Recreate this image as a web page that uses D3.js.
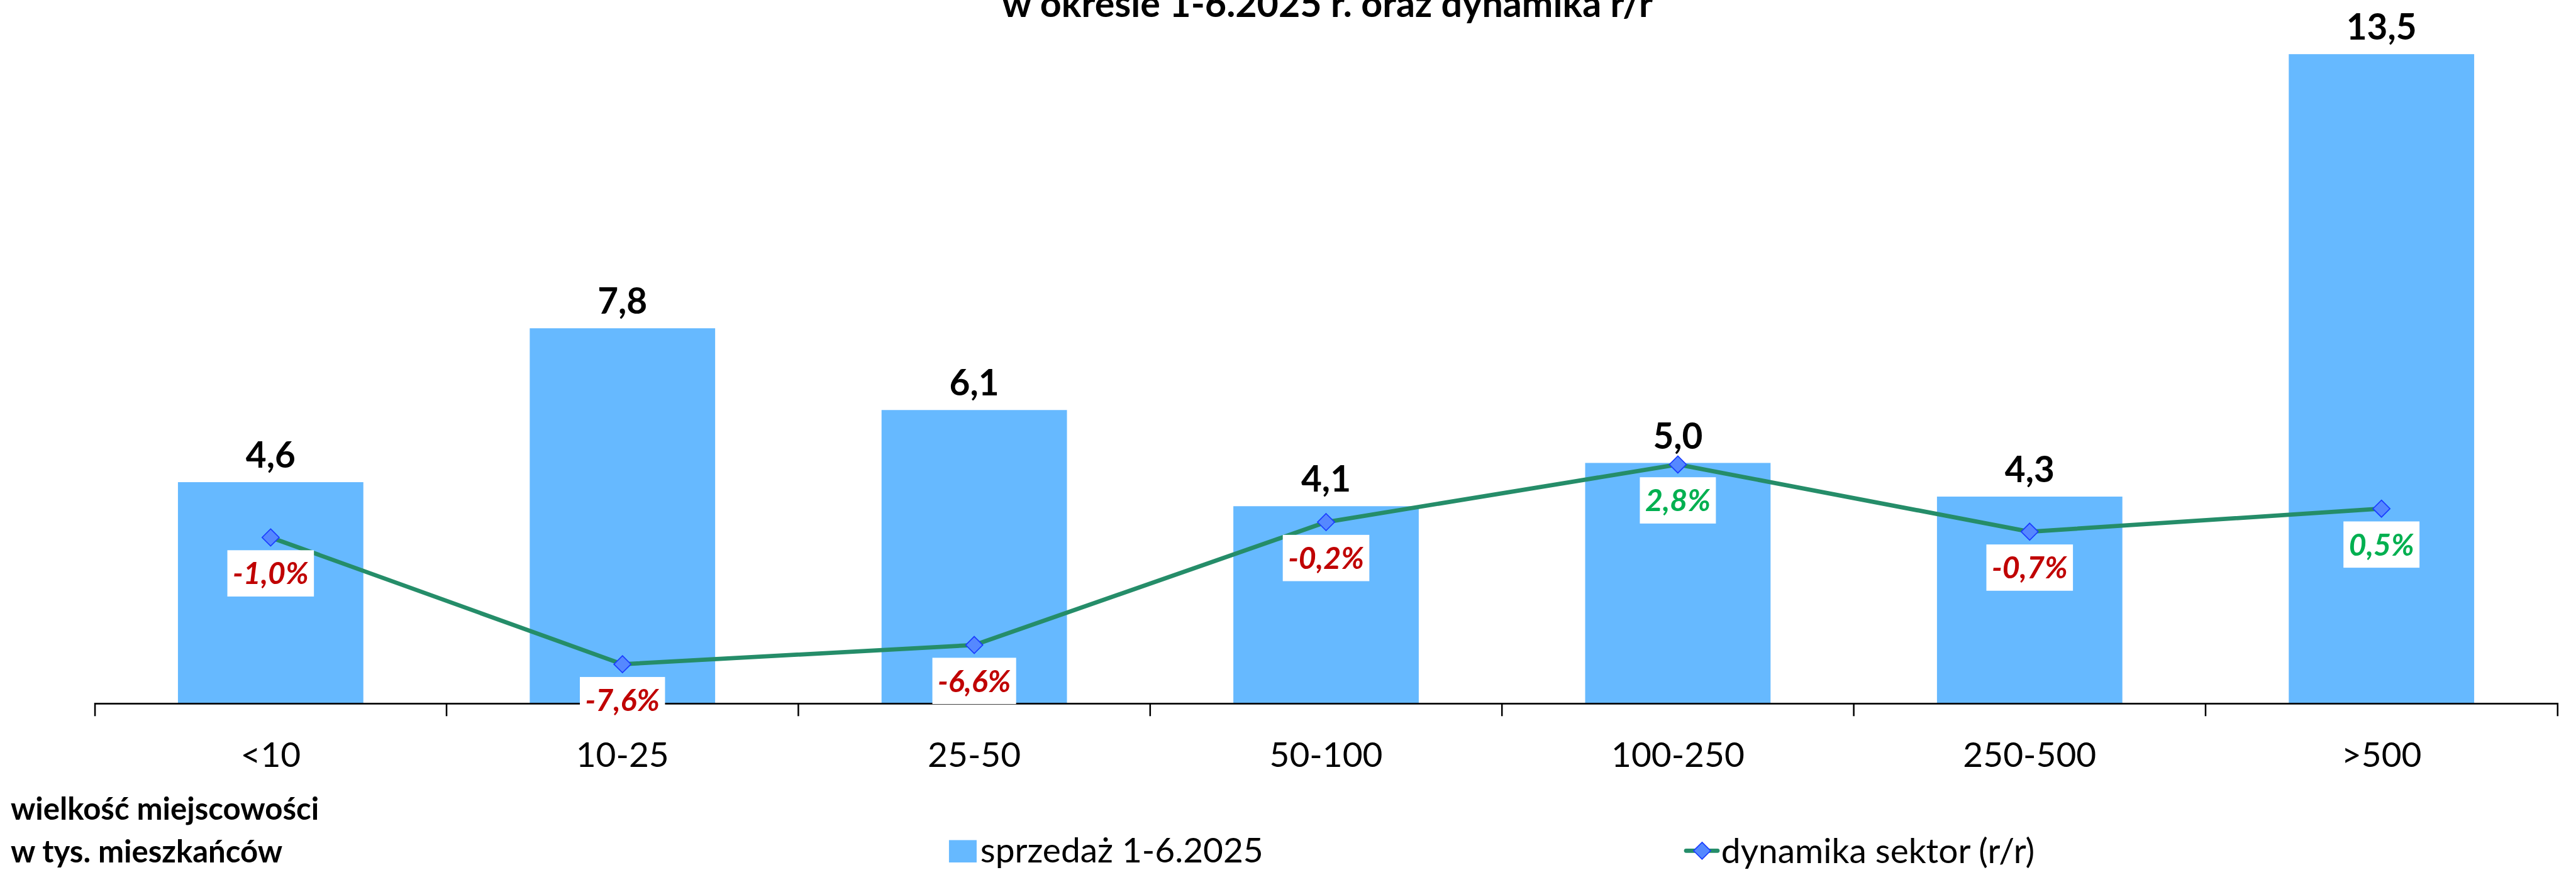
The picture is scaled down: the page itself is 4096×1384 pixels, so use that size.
<!DOCTYPE html>
<html>
<head>
<meta charset="utf-8">
<script src="https://cdn.jsdelivr.net/npm/d3@7/dist/d3.min.js"></script>
<style>
  html, body { margin: 0; padding: 0; background: #ffffff; }
  svg { display: block; }
  text { font-family: Lato, "Open Sans", sans-serif; }
</style>
</head>
<body>
<div id="chart"></div>
<script>
// ---- data ----
const categories = ["<10", "10-25", "25-50", "50-100", "100-250", "250-500", ">500"];
const sales = [4.6, 7.8, 6.1, 4.1, 5.0, 4.3, 13.5];          // sprzedaż 1-6.2025
const dynamics = [-1.0, -7.6, -6.6, -0.2, 2.8, -0.7, 0.5];    // dynamika sektor (r/r), %
const titleLine = "w okresie 1-6.2025 r. oraz dynamika r/r";
const axisTitle = ["wielkość miejscowości", "w tys. mieszkańców"];
const legendLabels = ["sprzedaż 1-6.2025", "dynamika sektor (r/r)"];

// ---- layout (reference coordinates, scaled by viewBox) ----
const W = 4840, H = 1635;
const svg = d3.select("#chart").append("svg")
  .attr("width", 4096).attr("height", 1384)
  .attr("viewBox", `0 0 ${W} ${H}`);

const barColor = "#66B9FF", lineColor = "#258D69";
const markFill = "#5588FF", markStroke = "#1A3CFF";
const negColor = "#C00000", posColor = "#00B050";
const locale = d3.formatLocale({ decimal: ",", thousands: " ", grouping: [3], currency: ["", " zł"], minus: "-" });
const comma = locale.format(".1f");

const axisY = 1322;
const x = d3.scaleBand().domain(categories).range([178, 4805]).padding(0);
const y = d3.scaleLinear().domain([0, 14]).range([axisY, axisY - 14 * 90.4]);
const y2 = d3.scaleLinear().domain([-8, 3]).range([974 + 8 * 36.1, 974 - 3 * 36.1]);
const barW = x.bandwidth() * 0.527;
const cx = c => x(c) + x.bandwidth() / 2;

// title (its first line lies above the visible area, as in the reference)
svg.append("text")
  .attr("x", 2494).attr("y", 32)
  .attr("text-anchor", "middle")
  .attr("font-size", 70).attr("font-weight", 700)
  .attr("fill", "#000")
  .text(titleLine);

// bars
svg.append("g").selectAll("rect")
  .data(categories)
  .join("rect")
  .attr("x", c => cx(c) - barW / 2)
  .attr("width", barW)
  .attr("y", (c, i) => y(sales[i]))
  .attr("height", (c, i) => y(0) - y(sales[i]))
  .attr("fill", barColor);

// bar value labels
svg.append("g").selectAll("text")
  .data(categories)
  .join("text")
  .attr("x", c => cx(c))
  .attr("y", (c, i) => y(sales[i]) - 27)
  .attr("text-anchor", "middle")
  .attr("font-size", 67).attr("font-weight", 700)
  .attr("fill", "#000")
  .text((c, i) => comma(sales[i]));

// axis
const axis = d3.axisBottom(x).tickSize(0).tickSizeOuter(24);
const gAxis = svg.append("g").attr("transform", `translate(0,${axisY})`).call(axis);
gAxis.select(".domain").attr("stroke", "#000").attr("stroke-width", 3);
gAxis.selectAll(".tick line").remove();
gAxis.selectAll(".tick text")
  .attr("y", 119).attr("dy", null)
  .attr("font-size", 65).attr("font-family", "Lato, sans-serif")
  .attr("fill", "#000");
gAxis.selectAll("line.bound")
  .data(categories.slice(1))
  .join("line")
  .attr("class", "bound")
  .attr("x1", c => x(c)).attr("x2", c => x(c))
  .attr("y1", 0).attr("y2", 24)
  .attr("stroke", "#000").attr("stroke-width", 3);

// line
const line = d3.line()
  .x((d, i) => cx(categories[i]))
  .y(d => y2(d));
svg.append("path")
  .datum(dynamics)
  .attr("d", line)
  .attr("fill", "none")
  .attr("stroke", lineColor)
  .attr("stroke-width", 8)
  .attr("stroke-linejoin", "round");

const diamond = (px, py, r) => `M${px},${py - r}L${px + r},${py}L${px},${py + r}L${px - r},${py}Z`;
svg.append("g").selectAll("path")
  .data(dynamics)
  .join("path")
  .attr("d", (d, i) => diamond(cx(categories[i]), y2(d), 16))
  .attr("fill", markFill)
  .attr("stroke", markStroke)
  .attr("stroke-width", 2);

// percent labels in white boxes
const lg = svg.append("g");
dynamics.forEach((d, i) => {
  const px = cx(categories[i]), py = y2(d);
  const g = lg.append("g");
  const rect = g.append("rect").attr("fill", "#fff");
  const t = g.append("text")
    .attr("x", px).attr("y", py + 24 + 64)
    .attr("text-anchor", "middle")
    .attr("font-size", 57).attr("font-weight", 700).attr("font-style", "italic")
    .attr("fill", d < 0 ? negColor : posColor)
    .text(comma(d) + "%");
  const bb = t.node().getBBox();
  rect.attr("x", px - bb.width / 2 - 10).attr("width", bb.width + 20)
    .attr("y", py + 24).attr("height", 87);
});

// axis title
svg.append("text")
  .attr("font-size", 58).attr("font-weight", 700).attr("fill", "#000")
  .selectAll("tspan")
  .data(axisTitle)
  .join("tspan")
  .attr("x", 20)
  .attr("y", (d, i) => 1541 + i * 80)
  .text(d => d);

// legend
const leg = svg.append("g");
leg.append("rect").attr("x", 1783).attr("y", 1579).attr("width", 52).attr("height", 42).attr("fill", barColor);
leg.append("text").attr("x", 1842).attr("y", 1621)
  .attr("font-size", 65).attr("fill", "#000").text(legendLabels[0]);
leg.append("line").attr("x1", 3168).attr("x2", 3227).attr("y1", 1599).attr("y2", 1599)
  .attr("stroke", lineColor).attr("stroke-width", 8).attr("stroke-linecap", "round");
leg.append("path").attr("d", diamond(3198, 1599, 16))
  .attr("fill", markFill).attr("stroke", markStroke).attr("stroke-width", 2);
leg.append("text").attr("x", 3234).attr("y", 1622)
  .attr("font-size", 65).attr("fill", "#000").text(legendLabels[1]);
</script>
</body>
</html>
